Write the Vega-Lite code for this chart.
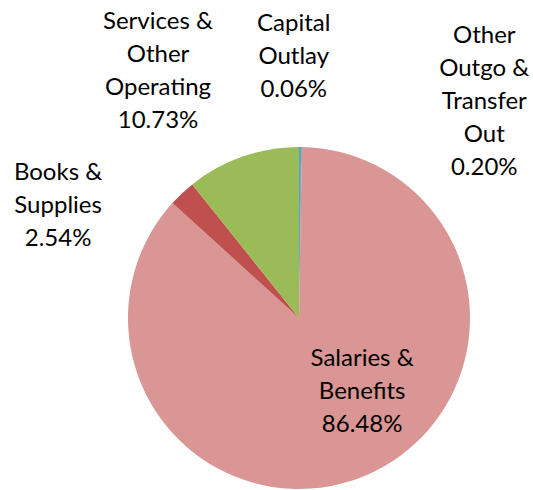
{
  "$schema": "https://vega.github.io/schema/vega-lite/v6.json",
  "width": 342,
  "height": 342,
  "autosize": "none",
  "padding": {"left": 128, "top": 147, "right": 63, "bottom": 1},
  "background": "white",
  "config": {"view": {"stroke": null}, "text": {"font": "Lato", "fontSize": 24, "lineHeight": 33, "lineBreak": "\n", "align": "center", "baseline": "middle", "color": "#000000"}},
  "data": {
    "values": [
      {"category": "Other Outgo & Transfer Out", "value": 0.20, "order": 1, "label": "Other\nOutgo &\nTransfer\nOut\n0.20%"},
      {"category": "Capital Outlay", "value": 0.06, "order": 2, "label": "Capital\nOutlay\n0.06%"},
      {"category": "Salaries & Benefits", "value": 86.48, "order": 3, "label": "Salaries &\nBenefits\n86.48%"},
      {"category": "Books & Supplies", "value": 2.54, "order": 4, "label": "Books &\nSupplies\n2.54%"},
      {"category": "Services & Other Operating", "value": 10.73, "order": 5, "label": "Services &\nOther\nOperating\n10.73%"}
    ]
  },
  "encoding": {
    "theta": {"field": "value", "type": "quantitative", "stack": true},
    "order": {"field": "order", "type": "quantitative"}
  },
  "layer": [
    {
      "mark": {"type": "arc", "outerRadius": 171},
      "encoding": {
        "color": {
          "field": "category",
          "type": "nominal",
          "legend": null,
          "scale": {
            "domain": ["Other Outgo & Transfer Out", "Capital Outlay", "Salaries & Benefits", "Books & Supplies", "Services & Other Operating"],
            "range": ["#4BACC6", "#8064A2", "#D99694", "#C0504D", "#9BBB59"]
          }
        }
      }
    },
    {
      "mark": {"type": "text", "radius": 96, "dx": 25, "dy": -47},
      "encoding": {"text": {"condition": {"test": "datum.category === 'Salaries & Benefits'", "field": "label"}, "value": ""}}
    },
    {
      "mark": {"type": "text", "radius": 200, "dx": -104, "dy": 1},
      "encoding": {"text": {"condition": {"test": "datum.category === 'Books & Supplies'", "field": "label"}, "value": ""}}
    },
    {
      "mark": {"type": "text", "radius": 260, "dx": -55, "dy": -51},
      "encoding": {"text": {"condition": {"test": "datum.category === 'Services & Other Operating'", "field": "label"}, "value": ""}}
    },
    {
      "mark": {"type": "text", "radius": 261, "dx": -9, "dy": -33},
      "encoding": {"text": {"condition": {"test": "datum.category === 'Capital Outlay'", "field": "label"}, "value": ""}}
    },
    {
      "mark": {"type": "text", "radius": 200, "dx": 184, "dy": -82},
      "encoding": {"text": {"condition": {"test": "datum.category === 'Other Outgo & Transfer Out'", "field": "label"}, "value": ""}}
    }
  ]
}
